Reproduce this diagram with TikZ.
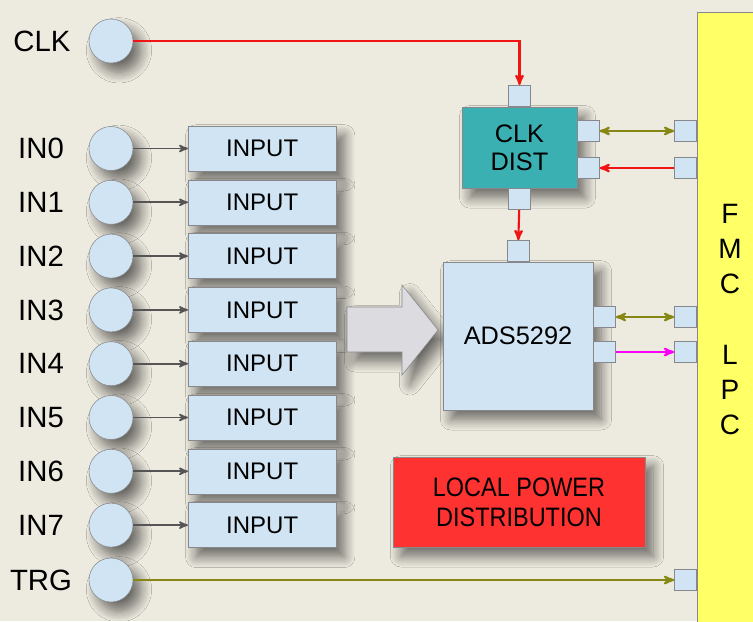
\documentclass[tikz,border=0pt]{standalone}
\usepackage{fontspec}
\setmainfont{Liberation Sans}
\newfontfamily\narrowfont[FakeStretch=0.88]{Liberation Sans}
\usetikzlibrary{positioning}
\usetikzlibrary{arrows}
\usetikzlibrary{shadows.blur}
\definecolor{bgbeige}{RGB}{237,234,223}
\definecolor{pinblue}{RGB}{208,228,243}
\definecolor{clkteal}{RGB}{58,176,178}
\definecolor{fmcyellow}{RGB}{255,255,102}
\definecolor{pwrred}{RGB}{255,50,50}
\definecolor{sigolive}{RGB}{135,135,20}
\definecolor{sigred}{RGB}{240,20,20}
\definecolor{sigmagenta}{RGB}{250,0,250}
\definecolor{edgegray}{RGB}{135,135,140}
\tikzset{
    softshadow/.style={
        blur shadow={shadow xshift=6pt, shadow yshift=-7pt,
            shadow blur radius=8pt, shadow blur steps=10, shadow opacity=55}
    },
    port/.style={
        circle,
        draw=edgegray,
        fill=pinblue,
        minimum size=33pt,
        inner sep=0pt,
        softshadow
    },
    lbl/.style={
        font=\fontsize{22}{26}\selectfont
    },
    inbox/.style={
        rectangle,
        draw=edgegray,
        fill=pinblue,
        minimum width=111pt,
        minimum height=33.75pt,
        font=\fontsize{18}{21}\selectfont,
        softshadow
    },
    pin/.style={
        rectangle,
        draw=edgegray,
        fill=pinblue,
        minimum width=16.5pt,
        minimum height=15.75pt,
        inner sep=0pt
    },
    chip/.style={
        rectangle,
        draw=edgegray,
        align=center,
        font=\fontsize{19}{21}\selectfont,
        softshadow
    },
    wire/.style={
        ->,>=stealth',
        line width=1.6pt
    },
    inwire/.style={
        ->,>=stealth',
        line width=1.3pt,
        draw={rgb,255:red,85;green,85;blue,85}
    }
}

\begin{document}
\begin{tikzpicture}[x=0.75pt, y=-0.75pt]
    \fill[bgbeige] (0,0) rectangle (753,621);
    \useasboundingbox (0,0) rectangle (753,621);

    % FMC connector
    \node[rectangle, draw=edgegray, fill=fmcyellow, minimum width=54pt,
        minimum height=471pt] (fmc) at (733,326) {};
    \node[lbl, align=center, font=\fontsize{21}{26.5}\selectfont] (fmctop) at (730,249) {F\\M\\C};
    \node[lbl, align=center, font=\fontsize{21}{26.5}\selectfont] (fmcbot) at (730,390) {L\\P\\C};

    % clock input
    \node[port] (clk) at (111,41) {};
    \node[lbl] (lclk) at (42,41) {CLK};

    % analog inputs
    \foreach \i in {0,...,7} {
        \node[port] (in\i) at (111,{148.5+53.8*\i}) {};
        \node[lbl] (lin\i) at (41,{148.5+53.8*\i}) {IN\i};
        \node[inbox, right=41pt of in\i] (inp\i) {INPUT};
        \draw[inwire] (in\i) -- (inp\i);
    }

    % trigger input
    \node[port] (trg) at (111,580) {};
    \node[lbl] (ltrg) at (41,580) {TRG};

    % big arrow into the ADC
    \fill[softshadow, fill={rgb,255:red,220;green,220;blue,224}, draw=edgegray]
        (347,307) -- (402,307) -- (402,285) -- (438,330) -- (402,375)
        -- (402,352) -- (347,352) -- cycle;

    % clock distribution
    \node[chip, fill=clkteal, minimum width=86pt, minimum height=61pt] (dist) at (519.5,147.5) {CLK\\DIST};
    \node[pin, above=0pt of dist] (dtop) {};
    \node[pin, below=0pt of dist] (dbot) {};
    \node[pin, anchor=west] (dout1) at ([yshift=12.4pt]dist.east) {};
    \node[pin, anchor=west] (dout2) at ([yshift=-15.4pt]dist.east) {};

    % ADC
    \node[chip, fill=pinblue, minimum width=112.5pt, minimum height=111pt] (ads) at (518,336) {ADS5292};
    \node[pin, above=0pt of ads] (atop) {};
    \node[pin, anchor=west] (aout1) at ([yshift=14.25pt]ads.east) {};
    \node[pin, anchor=west] (aout2) at ([yshift=-12pt]ads.east) {};

    % power
    \node[chip, fill=pwrred, minimum width=189pt, minimum height=67.5pt,
        font=\narrowfont\fontsize{20}{22.5}\selectfont] (pwr) at (519,502) {LOCAL POWER\\DISTRIBUTION};

    % FMC pins
    \node[pin, anchor=east] (fin1) at (fmc.west |- dout1) {};
    \node[pin, anchor=east] (fin2) at (fmc.west |- dout2) {};
    \node[pin, anchor=east] (fin3) at (fmc.west |- aout1) {};
    \node[pin, anchor=east] (fin4) at (fmc.west |- aout2) {};
    \node[pin, anchor=east] (fin5) at (fmc.west |- trg) {};

    % signals
    \draw[wire, sigred] (clk) -| (dtop);
    \draw[wire, sigolive, <->] (dout1) -- (fin1);
    \draw[wire, sigred] (fin2) -- (dout2);
    \draw[wire, sigred] (dbot) -- (atop);
    \draw[wire, sigolive, <->] (aout1) -- (fin3);
    \draw[wire, sigmagenta] (aout2) -- (fin4);
    \draw[wire, sigolive] (trg) -- (fin5);
\end{tikzpicture}
\end{document}
